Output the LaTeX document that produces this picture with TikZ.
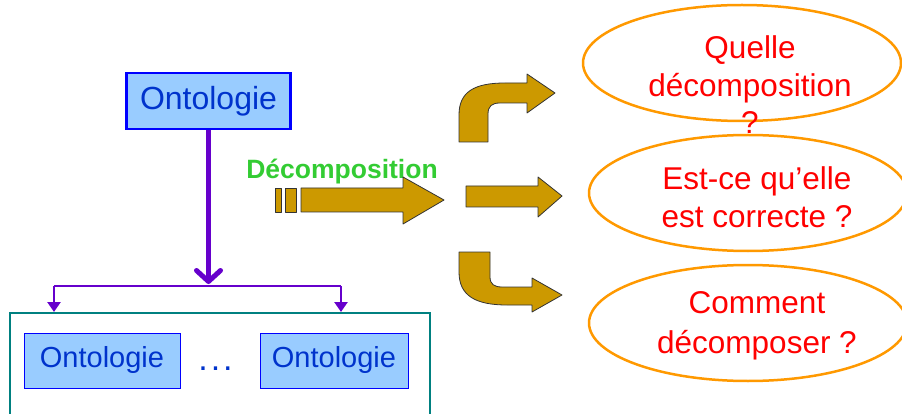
\documentclass[tikz,border=0pt]{standalone}
\usepackage{fontspec}
\setmainfont{Liberation Sans}
\usetikzlibrary{shapes.geometric,arrows.meta}
\definecolor{boxfill}{HTML}{99CCFF}
\definecolor{boxdraw}{HTML}{0000FF}
\definecolor{ontotext}{HTML}{0033CC}
\definecolor{purp}{HTML}{6600CC}
\definecolor{tealbox}{HTML}{008080}
\definecolor{gold}{HTML}{CC9900}
\definecolor{orng}{HTML}{FF9900}
\definecolor{grn}{HTML}{33CC33}
\definecolor{qred}{HTML}{FF0000}
\begin{document}
\begin{tikzpicture}[x=1pt,y=-1pt,
  ontobox/.style={draw=boxdraw,fill=boxfill,text=ontotext,inner sep=0pt,
    font=\fontsize{29}{34}\selectfont},
  bigarrow/.style={fill=gold,draw=black!80,line width=0.8pt,line join=round},
  qell/.style={ellipse,draw=orng,line width=2.5pt,inner sep=0pt,
    minimum width=318pt,minimum height=116pt},
  qtext/.style={text=qred,align=center,font=\fontsize{31.5}{37.5}\selectfont},
  link/.style={purp,line width=2.5pt,-{Triangle[width=13pt,length=10pt]}}]
\clip (0,0) rectangle (902,414);
\fill[white] (0,0) rectangle (902,414);

% top ontology
\node[ontobox,line width=2.5pt,minimum width=164pt,minimum height=56pt,
  font=\fontsize{32}{36}\selectfont] (top) at (208.5,101) {Ontologie};

% bottom container
\draw[tealbox,line width=2.5pt] (10,313) rectangle (430,430);
\node[ontobox,line width=1pt,minimum width=156pt,minimum height=55pt] (o1) at (102,360.5) {Ontologie};
\node[ontobox,line width=1pt,minimum width=148pt,minimum height=55pt] (o2) at (334,360.5) {Ontologie};
\node[text=ontotext,font=\fontsize{34}{38}\selectfont,inner sep=0pt,anchor=base] (dots) at (215.5,370) {.\hspace{3pt}.\hspace{3pt}.};
\coordinate (ctop1) at (54,312);
\coordinate (ctop2) at (341,312);

% purple connectors
\coordinate (j) at (208.5,284);
\coordinate (hl) at (54,286);
\coordinate (hr) at (341,286);
\draw[purp,line width=5pt,-{Straight Barb[length=11pt,width=24pt,round]}] (top.south) -- (j);
\draw[purp,line width=2.5pt] (hl) -- (hr);
\draw[link] (hl) -- (ctop1);
\draw[link] (hr) -- (ctop2);

% Decomposition label and arrow
\node[text=grn,font=\bfseries\fontsize{26.5}{30}\selectfont,inner sep=0pt] (declabel) at (342,172) {Décomposition};
\draw[bigarrow] (275,188) rectangle (281,212);
\draw[bigarrow] (285,188) rectangle (296,212);
\draw[bigarrow] (301,188) -- (403,188) -- (403,177) -- (444,200) -- (403,224) -- (403,212) -- (301,212) -- cycle;

% middle straight arrow
\draw[bigarrow] (466,186) -- (538,186) -- (538,177) -- (562,196) -- (538,217) -- (538,207) -- (466,207) -- cycle;

% top bent arrow
\draw[bigarrow] (459,142) -- (459,115) .. controls (459,92) and (474,83) .. (505,83)
  -- (527,83) -- (527,74) -- (555,93) -- (527,113) -- (527,103) -- (500,103)
  .. controls (492,103) and (488,106) .. (488,114) -- (488,142) -- cycle;

% bottom bent arrow
\draw[bigarrow] (459,252) -- (459,272) .. controls (459,296) and (476,305) .. (507,305)
  -- (532,305) -- (532,312) -- (562,295) -- (532,278) -- (532,287) -- (502,287)
  .. controls (494,287) and (490,284) .. (490,277) -- (490,252) -- cycle;

% question ellipses
\node[qell] (e1) at (742,63) {};
\node[qell] (e2) at (748,193) {};
\node[qell] (e3) at (748,323) {};
\node[qtext] (t1) at (750,85) {Quelle\\décomposition\\?};
\node[qtext] (t2) at (757,197) {Est-ce qu’elle\\est correcte ?};
\node[qtext,font=\fontsize{31.5}{40}\selectfont] (t3) at (757,326) {Comment\\décomposer ?};
\end{tikzpicture}
\end{document}
